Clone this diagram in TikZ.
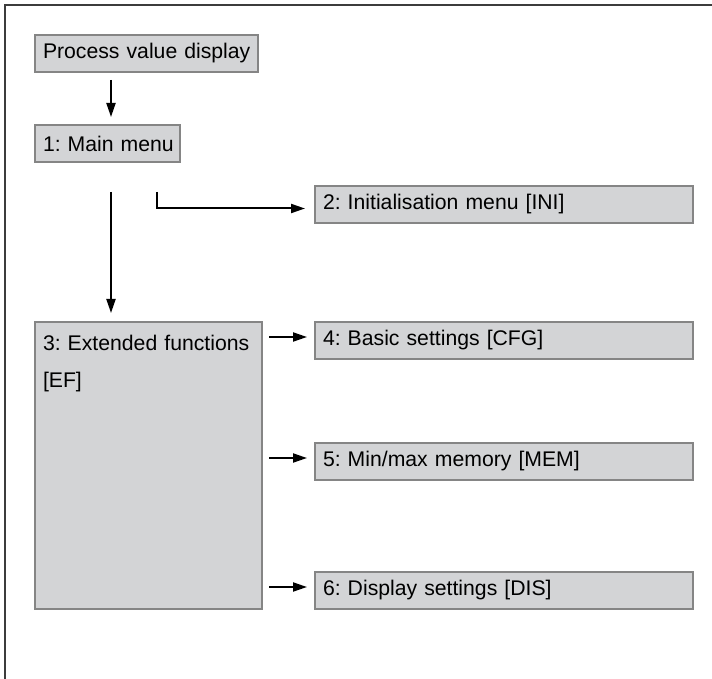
\documentclass[tikz,border=0pt]{standalone}
\usepackage{fontspec}
\setmainfont{Liberation Sans}
\usetikzlibrary{arrows.meta,calc}
\definecolor{boxFill}{HTML}{D3D4D6}
\definecolor{boxLine}{HTML}{858585}
\definecolor{frameColor}{HTML}{3C3C3C}
\tikzset{
	menu/.style={draw=boxLine, fill=boxFill, line width=0.75pt, anchor=north west,
		outer sep=0, inner xsep=4pt, inner ysep=0, minimum height=18.5pt, align=left},
	wide menu/.style={menu, text width=181pt},
}
\begin{document}
\begin{tikzpicture}[x=0.5pt, y=-0.5pt, ->, >={Triangle[length=7pt,width=4.5pt]},
		line width=1pt, font=\fontsize{10.6}{12.7}\selectfont\frenchspacing]
	\useasboundingbox (0,0) rectangle (712,679);
	\draw[-, frameColor, line width=1.25pt] (5,679) -- (5,5) -- (712,5);
	
	\node[menu, text width=103.5pt] (pvd) at (35,35) {\mbox{Process value display}};
	\node[menu, text width=64.5pt] (mm) at (35,125) {\mbox{1: Main menu}};
	\node[wide menu] (ini) at (315,186) {2: Initialisation menu [INI]};
	\node[menu, text width=105.5pt, text height=14.25pt, text depth=129.25pt,
		font=\fontsize{10.6}{18.5}\selectfont\frenchspacing] (ef) at (35,322) {3: Extended functions\\{}[EF]};
	\node[wide menu] (cfg) at (315,322) {4: Basic settings [CFG]};
	\node[wide menu] (mem) at (315,443) {5: Min/max memory [MEM]};
	\node[wide menu] (dis) at (315,572) {6: Display settings [DIS]};
	
	\draw ($(pvd.south west)+(76,8)$) -- ($(mm.north west)+(76,-8)$);
	\draw ($(mm.south west)+(76,30)$) -- ($(ef.north west)+(76,-9)$);
	\draw ($(mm.south west)+(122,30)$) |- ($(ini.west)+(-10,4)$);
	\foreach \m in {cfg,mem,dis}
		\draw ($(ef.north east |- \m.north)+(7,15)$) -- ($(\m.north west)+(-8,15)$);
\end{tikzpicture}
\end{document}
